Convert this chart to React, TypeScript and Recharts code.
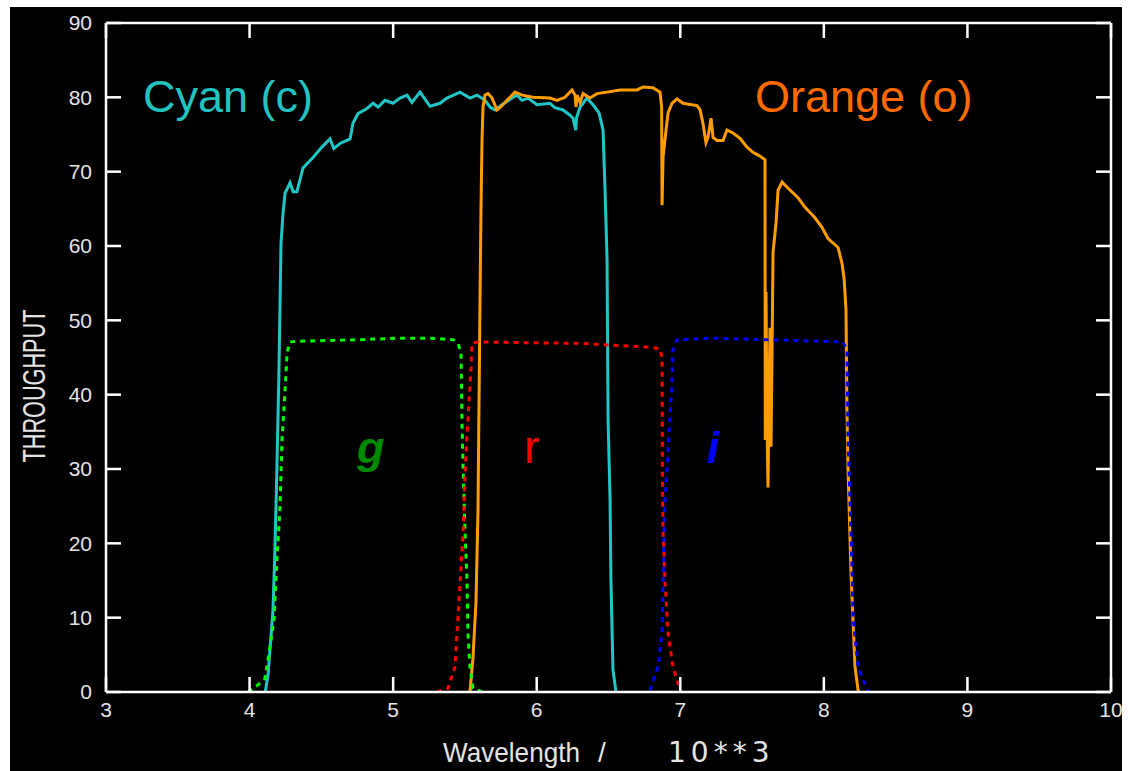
import { LineChart, Line, XAxis, YAxis } from "recharts";

// wavelength (x 10^3) vs throughput (%)
const cyanCurve: [number, number][] = [
  [4.11, 0], [4.13, 2.6], [4.163, 11], [4.177, 19.4], [4.191, 30.5], [4.205, 43.6], [4.219, 60.4],
  [4.233, 64.4], [4.247, 67.1], [4.282, 68.5], [4.303, 67.3], [4.33, 67.3], [4.372, 70.5],
  [4.442, 71.9], [4.504, 73.3], [4.56, 74.4], [4.587, 73.1], [4.63, 73.8], [4.7, 74.4],
  [4.72, 76.5], [4.755, 77.8], [4.818, 78.5], [4.86, 79.2], [4.895, 78.7], [4.943, 79.6],
  [4.999, 79.2], [5.048, 79.9], [5.097, 80.3], [5.131, 79.3], [5.187, 80.7], [5.257, 78.8],
  [5.326, 79.2], [5.375, 79.9], [5.466, 80.7], [5.536, 79.9], [5.584, 80.3], [5.64, 79.6],
  [5.675, 78.7], [5.709, 78.3], [5.758, 79.0], [5.828, 79.9], [5.863, 80.3], [5.898, 79.6],
  [5.939, 79.9], [6.002, 79.0], [6.093, 79.2], [6.127, 78.6], [6.183, 78.3], [6.232, 77.6],
  [6.253, 77.2], [6.272, 75.6], [6.277, 77.2], [6.302, 78.7], [6.35, 79.9], [6.392, 79.0],
  [6.434, 77.9], [6.462, 75.6], [6.476, 67.5], [6.49, 58.1], [6.497, 36.6], [6.511, 25.8],
  [6.517, 15.1], [6.531, 3.0], [6.552, 0],
];

const orangeCurve: [number, number][] = [
  [5.535, 0], [5.556, 4.6], [5.577, 12.1], [5.591, 24.5], [5.605, 52.7], [5.612, 65.2],
  [5.619, 74.3], [5.626, 78.7], [5.64, 80.3], [5.661, 80.5], [5.689, 79.9], [5.723, 78.3],
  [5.744, 78.6], [5.793, 79.6], [5.849, 80.7], [5.898, 80.3], [5.974, 80.0], [6.093, 79.9],
  [6.141, 79.6], [6.197, 80.0], [6.246, 81.0], [6.267, 80.3], [6.274, 78.7], [6.281, 80.3],
  [6.302, 79.3], [6.323, 80.5], [6.371, 79.9], [6.42, 80.5], [6.49, 80.7], [6.58, 81.0],
  [6.699, 81.0], [6.741, 81.4], [6.81, 81.3], [6.859, 80.7], [6.87, 78.7], [6.873, 65.5],
  [6.88, 72.0], [6.901, 75.6], [6.915, 77.9], [6.942, 79.2], [6.977, 79.8], [7.019, 79.2],
  [7.116, 78.9], [7.138, 78.3], [7.158, 76.5], [7.179, 73.9], [7.193, 74.6], [7.214, 77.2],
  [7.228, 74.6], [7.256, 74.2], [7.298, 74.2], [7.325, 75.6], [7.367, 75.2], [7.416, 74.5],
  [7.465, 73.3], [7.506, 72.6], [7.555, 72.1], [7.59, 71.6], [7.592, 33.9], [7.597, 53.8],
  [7.604, 36.0], [7.611, 27.5], [7.618, 40.0], [7.625, 49.0], [7.632, 33.0], [7.639, 45.6],
  [7.646, 59.1], [7.667, 63.1], [7.681, 67.5], [7.709, 68.6], [7.744, 67.9], [7.82, 66.5],
  [7.869, 65.2], [7.938, 63.8], [7.987, 62.5], [8.029, 61.0], [8.099, 59.8], [8.127, 57.6],
  [8.141, 55.6], [8.154, 51.5], [8.161, 37.9], [8.168, 30.3], [8.189, 16.0], [8.203, 9.7],
  [8.217, 3.4], [8.238, 0.3], [8.245, 0],
];

const gCurve: [number, number][] = [
  [3.989, 0], [4.024, 0.4], [4.073, 1.2], [4.107, 1.8], [4.135, 5.2], [4.17, 9.7], [4.191, 18.0],
  [4.212, 24.8], [4.226, 33.9], [4.24, 38.3], [4.254, 42.9], [4.261, 45.7], [4.282, 47.1],
  [4.351, 47.2], [4.56, 47.3], [4.769, 47.4], [5.048, 47.6], [5.257, 47.6], [5.417, 47.4],
  [5.452, 46.9], [5.473, 45.6], [5.48, 35.7], [5.487, 30.3], [5.501, 21.4], [5.515, 14.7],
  [5.521, 7.9], [5.535, 3.4], [5.556, 0.5], [5.619, 0],
];

const rCurve: [number, number][] = [
  [5.305, 0], [5.382, 0.5], [5.431, 3.4], [5.445, 7.9], [5.466, 14.7], [5.487, 21.4],
  [5.501, 29.5], [5.515, 34.8], [5.529, 39.3], [5.543, 43.7], [5.549, 46.9], [5.584, 47.1],
  [5.884, 47.0], [6.302, 46.9], [6.768, 46.4], [6.859, 46.2], [6.873, 44.9], [6.876, 28.1],
  [6.88, 21.4], [6.894, 14.7], [6.915, 7.9], [6.949, 3.4], [6.991, 0.7], [7.005, 0],
];

const iCurve: [number, number][] = [
  [6.789, 0.2], [6.845, 3.4], [6.873, 7.9], [6.88, 14.7], [6.887, 21.4], [6.894, 25.8],
  [6.908, 30.3], [6.922, 34.8], [6.942, 41.6], [6.949, 46.0], [6.977, 47.4], [7.228, 47.6],
  [7.576, 47.4], [8.133, 47.1], [8.161, 46.0], [8.168, 34.8], [8.182, 25.8], [8.196, 16.8],
  [8.203, 10.1], [8.238, 3.4], [8.301, 0.3], [8.314, 0],
];

const xTicks = [3, 4, 5, 6, 7, 8, 9, 10];
const yTicks = [0, 10, 20, 30, 40, 50, 60, 70, 80, 90];

const toPoints = (c: [number, number][]) => c.map(([x, y]) => ({ x, y }));

const axisColor = "#ffffff";
const tickFont = { fill: "#e4e4e4", fontSize: 21, fontFamily: "Liberation Sans" };
const blank = () => "";

export default function App() {
  return (
    <div style={{ position: "absolute", left: 0, top: 0, width: 1130, height: 771, background: "#fff" }}>
      <div style={{ position: "absolute", left: 10, top: 7, width: 1112, height: 764, background: "#000" }} />
      <div style={{ position: "absolute", left: 0, top: 0 }}>
        <LineChart width={1130} height={771} margin={{ top: 22, right: 18, bottom: 0, left: 0 }}>
          <XAxis
            dataKey="x"
            type="number"
            domain={[3, 10]}
            ticks={xTicks}
            allowDataOverflow
            height={79}
            tickSize={-15}
            tickMargin={25}
            tick={tickFont}
            axisLine={{ stroke: axisColor, strokeWidth: 2.5 }}
            tickLine={{ stroke: axisColor, strokeWidth: 2.5 }}
          />
          <XAxis
            xAxisId="top"
            orientation="top"
            dataKey="x"
            type="number"
            domain={[3, 10]}
            ticks={xTicks}
            allowDataOverflow
            height={1}
            tickSize={-15}
            tickFormatter={blank}
            axisLine={{ stroke: axisColor, strokeWidth: 2.5 }}
            tickLine={{ stroke: axisColor, strokeWidth: 2.5 }}
          />
          <YAxis
            type="number"
            domain={[0, 90]}
            ticks={yTicks}
            allowDataOverflow
            width={106}
            tickSize={-15}
            tickMargin={29}
            tick={tickFont}
            axisLine={{ stroke: axisColor, strokeWidth: 2.5 }}
            tickLine={{ stroke: axisColor, strokeWidth: 2.5 }}
          />
          <YAxis
            yAxisId="right"
            orientation="right"
            type="number"
            domain={[0, 90]}
            ticks={yTicks}
            allowDataOverflow
            width={1}
            tickSize={-15}
            tickFormatter={blank}
            axisLine={{ stroke: axisColor, strokeWidth: 2.5 }}
            tickLine={{ stroke: axisColor, strokeWidth: 2.5 }}
          />
          <Line data={toPoints(cyanCurve)} dataKey="y" type="linear" stroke="#1fc6c6" strokeWidth={3} dot={false} isAnimationActive={false} />
          <Line data={toPoints(orangeCurve)} dataKey="y" type="linear" stroke="#ff9d00" strokeWidth={3} dot={false} isAnimationActive={false} />
          <Line data={toPoints(gCurve)} dataKey="y" type="linear" stroke="#00ff00" strokeWidth={3} strokeDasharray="5 5" dot={false} isAnimationActive={false} />
          <Line data={toPoints(rCurve)} dataKey="y" type="linear" stroke="#ff0000" strokeWidth={3} strokeDasharray="5 5" dot={false} isAnimationActive={false} />
          <Line data={toPoints(iCurve)} dataKey="y" type="linear" stroke="#0000ff" strokeWidth={3} strokeDasharray="5 5" dot={false} isAnimationActive={false} />
        </LineChart>
      </div>
      <svg width={1130} height={771} style={{ position: "absolute", left: 0, top: 0, pointerEvents: "none" }}>
        <g fontFamily="Liberation Sans">
          <text x={143} y={112} fontSize={45} fill="#22c3c0">Cyan (c)</text>
          <text x={755} y={112} fontSize={45} fill="#ff6a00">Orange (o)</text>
          <text x={357} y={463} fontSize={45} fontWeight="bold" fontStyle="italic" fill="#008a00">g</text>
          <text x={524} y={463} fontSize={46} fill="#ff0000">r</text>
          <text x={707} y={463} fontSize={45} fontWeight="bold" fontStyle="italic" fill="#0000ff">i</text>
          <text x={443} y={762} fontSize={28} fill="#e4e4e4" textLength={137} lengthAdjust="spacingAndGlyphs">Wavelength</text>
          <text x={598} y={762} fontSize={28} fill="#e4e4e4">/</text>
          <text x={668} y={762} fontSize={28} fill="#e4e4e4" letterSpacing={5} fontFamily="DejaVu Sans">10**3</text>
          <text
            x={0}
            y={0}
            transform="translate(45 386) rotate(-90)"
            textAnchor="middle"
            fontSize={31}
            fill="#e4e4e4"
            textLength={153}
            lengthAdjust="spacingAndGlyphs"
          >
            THROUGHPUT
          </text>
        </g>
      </svg>
    </div>
  );
}
